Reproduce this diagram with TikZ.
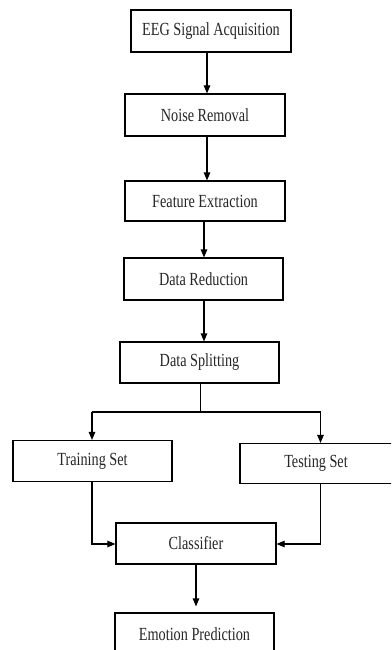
\documentclass[tikz,border=0pt]{standalone}
\usepackage{fontspec}
\setmainfont{Liberation Serif}[FakeStretch=0.77]
\usetikzlibrary{arrows.meta}
\begin{document}
\begin{tikzpicture}[x=1pt,y=-1pt,
  stepbox/.style={draw, line width=1.1pt, fill=white, minimum width=160pt, minimum height=41pt,
    inner sep=0pt, text=black!85, font=\fontsize{18.5}{20}\selectfont},
  flow/.style={line width=1.1pt, -{Triangle[length=8pt,width=6.5pt]}},
  link/.style={line width=1.1pt}]
\useasboundingbox (0,0) rectangle (391,650);
\clip (0,0) rectangle (391,650);
\fill[white] (0,0) rectangle (391,650);

% process boxes
\node[stepbox, minimum height=42pt] (eeg)   at (211,31)    {EEG Signal Acquisition};
\node[stepbox, minimum height=42pt] (noise) at (205,115)   {Noise Removal};
\node[stepbox, minimum height=40pt] (feat)  at (205,201)   {Feature Extraction};
\node[stepbox, minimum width=159pt, minimum height=42pt] (red) at (203.5,279) {Data Reduction};
\node[stepbox, minimum width=159pt] (split) at (199.5,362.5) {Data Splitting};
\node[stepbox, minimum width=159pt] (train) at (92.5,461)  {Training Set};
\node[stepbox, minimum width=170pt, minimum height=40pt] (test) at (325,463.5) {};
\node[text=black!85, font=\fontsize{18.5}{20}\selectfont] (testtxt) at (316,463.5) {Testing Set};
\node[stepbox] (cls) at (196,543.5) {Classifier};
\node[stepbox, minimum width=159pt, minimum height=42pt] (emo) at (194.5,634) {Emotion Prediction};

% vertical guides for the connectors
\coordinate (c1) at (207,0);
\coordinate (c2) at (204,0);
\coordinate (c3) at (200.5,0);
\coordinate (c4) at (92,0);
\coordinate (c5) at (320.5,0);
\coordinate (c6) at (196,0);
\coordinate (jl) at (92,412);
\coordinate (jr) at (320.5,412);
\coordinate (bl) at (92,544);
\coordinate (br) at (320.5,544);

% main chain
\draw[flow] (eeg.south -| c1) -- (noise.north -| c1);
\draw[flow] (noise.south -| c1) -- (feat.north -| c1);
\draw[flow] (feat.south -| c2) -- (red.north -| c2);
\draw[flow] (red.south -| c2) -- (split.north -| c2);

% split into training and testing sets
\draw[link] (split.south -| c3) -- (c3 |- jl);
\draw[flow] (jl) -- (jr) -- (test.north -| c5);
\draw[flow] (jl) -- (train.north -| c4);

% both sets feed the classifier
\draw[flow] (train.south -| c4) -- (bl) -- (cls.west |- bl);
\draw[flow] (test.south -| c5) -- (br) -- (cls.east |- br);

% prediction
\draw[flow, shorten >=6pt] (cls.south -| c6) -- (emo.north -| c6);
\end{tikzpicture}
\end{document}
